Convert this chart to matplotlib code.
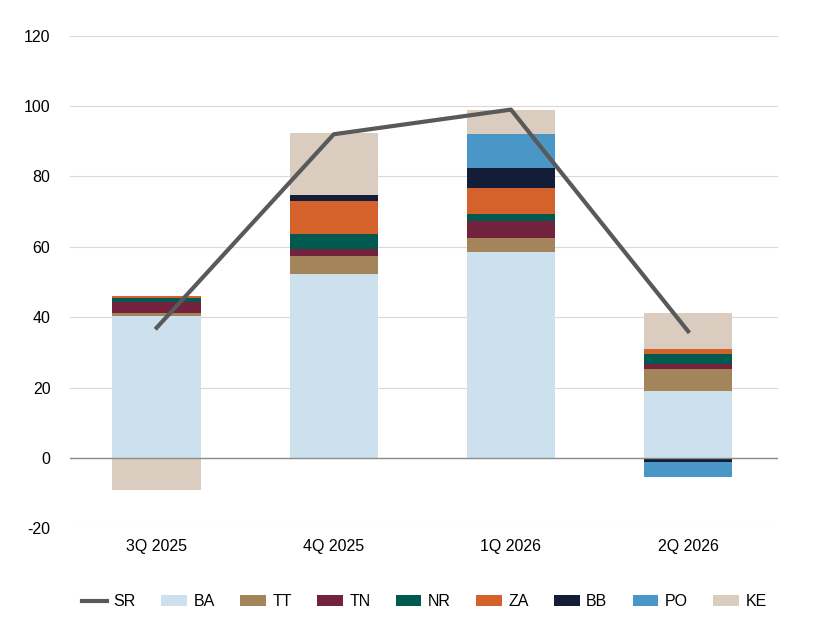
import numpy as np
import matplotlib.pyplot as plt

plt.rcParams['font.family'] = ['Liberation Sans', 'DejaVu Sans']
plt.rcParams['axes.unicode_minus'] = False

quarters = ['3Q 2025', '4Q 2025', '1Q 2026', '2Q 2026']
BA = [40.2, 52.3, 58.4, 18.9]
TT = [1.1, 5.1, 4.2, 6.5]
TN = [3.0, 2.1, 4.6, 1.3]
NR = [1.1, 4.2, 2.2, 2.9]
ZA = [0.6, 9.4, 7.2, 1.4]
BB = [0.0, 1.7, 5.9, -1.1]
PO = [0.0, 0.0, 9.7, -4.2]
KE = [-9.0, 17.6, 6.8, 10.3]
SR = [37, 92, 99, 36]

series = [('BA', BA, '#cce0ed'), ('TT', TT, '#a3845b'), ('TN', TN, '#73223d'),
          ('NR', NR, '#005a4f'), ('ZA', ZA, '#d4622a'), ('BB', BB, '#131d38'),
          ('PO', PO, '#4a96c6'), ('KE', KE, '#dacdbf')]

fig = plt.figure(figsize=(8.22, 6.38), dpi=100)
ax = fig.add_axes([0.085, 0.172, 0.862, 0.772])
x = np.arange(len(quarters))
pos = np.zeros(len(x))
neg = np.zeros(len(x))
for name, vals, col in series:
    v = np.array(vals)
    base = np.where(v >= 0, pos, neg)
    ax.bar(x, v, 0.5, bottom=base, color=col, label=name, zorder=2)
    pos += np.where(v >= 0, v, 0)
    neg += np.where(v < 0, v, 0)
ax.plot(x, SR, color='#595959', lw=3, label='SR', zorder=4)

ax.set_ylim(-20, 120)
ax.set_xlim(-0.49, 3.51)
ax.set_yticks(range(-20, 121, 20))
ax.set_xticks(x)
ax.set_xticklabels(quarters)
ax.grid(axis='y', color='#d9d9d9', lw=0.8, zorder=0)
ax.axhline(0, color='#8c8c8c', lw=1, zorder=3)
for s in ax.spines.values():
    s.set_visible(False)
ax.tick_params(length=0, labelsize=11.5, pad=8)
ax.tick_params(axis='y', pad=14)
ax.legend(loc='upper center', bbox_to_anchor=(0.5, -0.105), ncol=9, frameon=False,
          fontsize=11.5, handlelength=1.6, columnspacing=1.6, handletextpad=0.4)
fig.savefig('out.png')
